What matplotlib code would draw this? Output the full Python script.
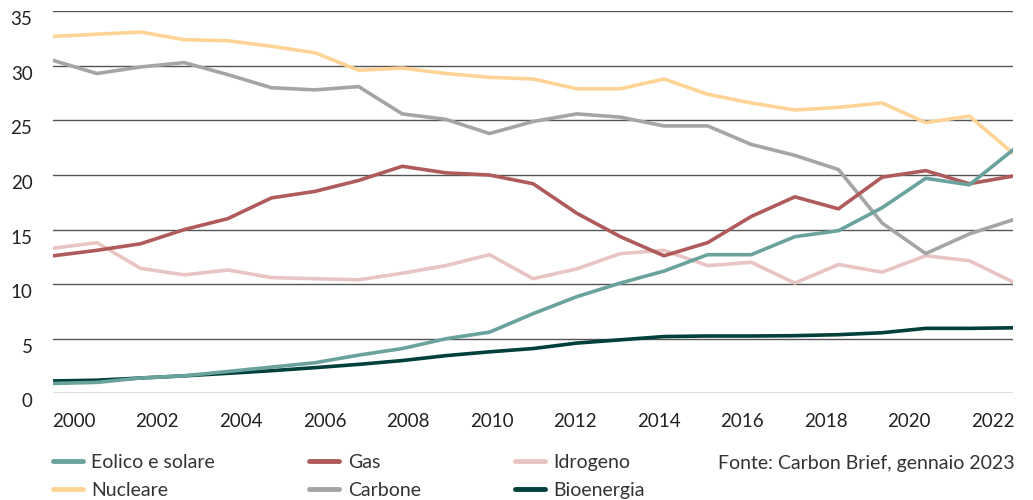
import matplotlib.pyplot as plt
import numpy as np

years = list(range(2000, 2023))
tick_years = list(range(2000, 2023, 2))

eolico_solare = [0.9, 1.0, 1.4, 1.6, 2.0, 2.4, 2.8, 3.5, 4.1, 5.0, 5.6, 7.3, 8.85, 10.1, 11.2,
                 12.7, 12.7, 14.35, 14.9, 17.0, 19.7, 19.1, 22.3]
nucleare = [32.7, 32.9, 33.1, 32.4, 32.3, 31.8, 31.2, 29.6, 29.8, 29.3, 28.95, 28.8, 27.9, 27.9,
            28.8, 27.4, 26.6, 25.96, 26.2, 26.6, 24.8, 25.4, 22.0]
gas = [12.6, 13.1, 13.7, 15.0, 16.0, 17.9, 18.5, 19.5, 20.8, 20.2, 20.0, 19.2, 16.5, 14.35, 12.6,
       13.8, 16.2, 18.0, 16.9, 19.8, 20.4, 19.2, 19.9]
carbone = [30.5, 29.3, 29.9, 30.3, 29.2, 28.0, 27.8, 28.1, 25.6, 25.1, 23.8, 24.9, 25.6, 25.3,
           24.5, 24.5, 22.8, 21.8, 20.5, 15.6, 12.8, 14.6, 15.9]
idrogeno = [13.3, 13.8, 11.45, 10.85, 11.3, 10.6, 10.5, 10.4, 11.0, 11.7, 12.7, 10.5, 11.4, 12.8,
            13.1, 11.7, 12.0, 10.1, 11.8, 11.1, 12.6, 12.15, 10.2]
bioenergia = [1.13, 1.2, 1.4, 1.6, 1.83, 2.07, 2.35, 2.65, 3.0, 3.45, 3.8, 4.1, 4.6, 4.9, 5.2,
              5.25, 5.25, 5.28, 5.37, 5.55, 5.95, 5.95, 6.0]

plt.rcParams['font.family'] = ['Lato', 'DejaVu Sans']

fig = plt.figure(figsize=(10.33, 5.0), dpi=100)
ax = fig.add_axes([0.0516, 0.2134, 0.9290, 0.764])

x = np.arange(len(years))
lw = 2.6
ax.plot(x, idrogeno, color='#e8c5c3', lw=lw, zorder=3, label='Idrogeno')
ax.plot(x, nucleare, color='#fdd496', lw=lw, zorder=4, label='Nucleare')
ax.plot(x, carbone, color='#a6a5a5', lw=lw, zorder=5, label='Carbone')
ax.plot(x, gas, color='#b05b5b', lw=lw, zorder=6, label='Gas')
ax.plot(x, bioenergia, color='#003f3a', lw=lw, zorder=7, label='Bioenergia')
ax.plot(x, eolico_solare, color='#6aa29d', lw=lw, zorder=8, label='Eolico e solare')

ax.set_xlim(0, len(years) - 1)
ax.set_ylim(0, 35)
ax.set_yticks(range(0, 36, 5))
ax.yaxis.grid(True, color='#555555', lw=1.0, zorder=1)
ax.set_axisbelow(True)
for s in ax.spines.values():
    s.set_visible(False)

ax.set_xticks(np.linspace(0.47, 21.54, len(tick_years)))
ax.set_xticklabels([str(y) for y in tick_years])
ax.tick_params(axis='both', length=0, labelsize=13.5, colors='#222222')
ax.tick_params(axis='x', pad=14)
ax.tick_params(axis='y', pad=15)
for lab in ax.get_yticklabels():
    lab.set_verticalalignment('top')

h, l = ax.get_legend_handles_labels()
order = ['Eolico e solare', 'Nucleare', 'Gas', 'Carbone', 'Idrogeno', 'Bioenergia']
hd = dict(zip(l, h))
leg = fig.legend([hd[k] for k in order], order, ncol=3, loc='upper left',
                 bbox_to_anchor=(0.0513, 0.092), frameon=False, fontsize=14,
                 handlelength=1.55, handletextpad=0.42, columnspacing=4.85,
                 labelspacing=0.55, borderaxespad=0, borderpad=0)
for t in leg.get_texts():
    t.set_color('#333333')
for line in leg.get_lines():
    line.set_linewidth(3.5)
    line.set_solid_capstyle('round')

fig.text(0.695, 0.074, 'Fonte: Carbon Brief, gennaio 2023', fontsize=14, color='#333333',
         va='center')

fig.savefig('out.png', dpi=100)
